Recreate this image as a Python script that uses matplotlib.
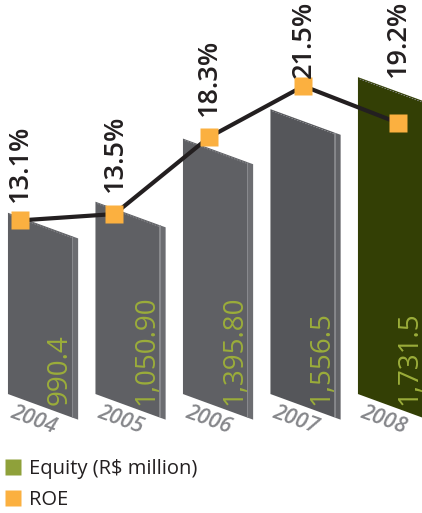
import matplotlib.pyplot as plt
from matplotlib.patches import Polygon
from matplotlib.lines import Line2D

years = ["2004", "2005", "2006", "2007", "2008"]
equity = [990.4, 1050.9, 1395.8, 1556.5, 1731.5]
equity_labels = ["990.4", "1,050.90", "1,395.80", "1,556.5", "1,731.5"]
roe = [13.1, 13.5, 18.3, 21.5, 19.2]

plt.rcParams["font.family"] = ["Open Sans", "DejaVu Sans"]

fig = plt.figure(figsize=(4.22, 5.13), dpi=100)

# equity bars: slanted slabs drawn in value units
ax = fig.add_axes([0, 0, 1, 1])
ax.set_xlim(-0.457, 4.366)
ax.set_ylim(-650, 2153)
ax.axis("off")

half = 0.366       # half width of the front face
drop = 128         # fall of the front face from left to right
side_w = 0.07      # depth of the right-hand face
side_drop = 12

front_cols = ["#5e5f63", "#5f6064", "#5f6064", "#55565a", "#333f05"]
side_cols = ["#6c6d71", "#6c6d71", "#6c6d71", "#626367", "#3a4508"]

for i, (v, lab, yr) in enumerate(zip(equity, equity_labels, years)):
    x0, x1 = i - half, i + half
    x2 = x1 + side_w
    front = [(x0, 0), (x0, v), (x1, v - drop), (x1, -drop)]
    side = [(x1, -drop), (x1, v - drop), (x2, v - drop - side_drop), (x2, -drop - side_drop)]
    ax.add_patch(Polygon(side, closed=True, fc=side_cols[i], ec="none", zorder=2))
    ax.add_patch(Polygon(front, closed=True, fc=front_cols[i], ec="none", zorder=2))
    ax.plot([x1, x1], [-drop, v - drop], color="#8e8f93", lw=0.6, zorder=3)
    ax.plot([x0 + 0.02, x1], [v - 10, v - drop - 8], color="#8e8f93", lw=0.6,
            ls=(0, (2, 1.5)), zorder=3)
    ax.text(i + 0.22, -60, lab, rotation=90, ha="center", va="bottom",
            color="#9bad3a", fontsize=20, zorder=4)
    ax.text(i - 0.08, -140, yr, rotation=-20, ha="center", va="center",
            rotation_mode="anchor", color="#86878b", fontsize=15.5,
            fontweight="semibold", fontstyle="italic", zorder=4)

# ROE line on its own scale
ax2 = fig.add_axes([0, 0, 1, 1])
ax2.set_xlim(-0.2116, 4.254)
ax2.set_ylim(-5.19, 26.88)
ax2.patch.set_alpha(0)
ax2.axis("off")
ax2.plot(range(len(roe)), roe, color="#231f20", lw=3, marker="s", ms=12.3,
         mfc="#fbb040", mec="none", zorder=5)

pct_offsets = [13, 16, 15, 6, 33]
for i, (v, off) in enumerate(zip(roe, pct_offsets)):
    ax2.annotate(f"{v}%", (i, v), xytext=(0, off), textcoords="offset points",
                 rotation=90, ha="center", va="bottom", fontsize=19.5,
                 fontweight="semibold", color="#231f20", zorder=6)

handles = [
    Line2D([], [], ls="none", marker="s", ms=11.5, mfc="#8fa13a", mec="none",
           label=r"Equity (R\$ million)"),
    Line2D([], [], ls="none", marker="s", ms=11.5, mfc="#fbb040", mec="none",
           label="ROE"),
]
fig.legend(handles=handles, loc="lower left", bbox_to_anchor=(0.012, 0.006),
           frameon=False, fontsize=14.5, handlelength=0.8, handletextpad=0.4,
           labelspacing=0.55, borderpad=0, borderaxespad=0, labelcolor="#231f20")

fig.savefig("out.png", dpi=100)
